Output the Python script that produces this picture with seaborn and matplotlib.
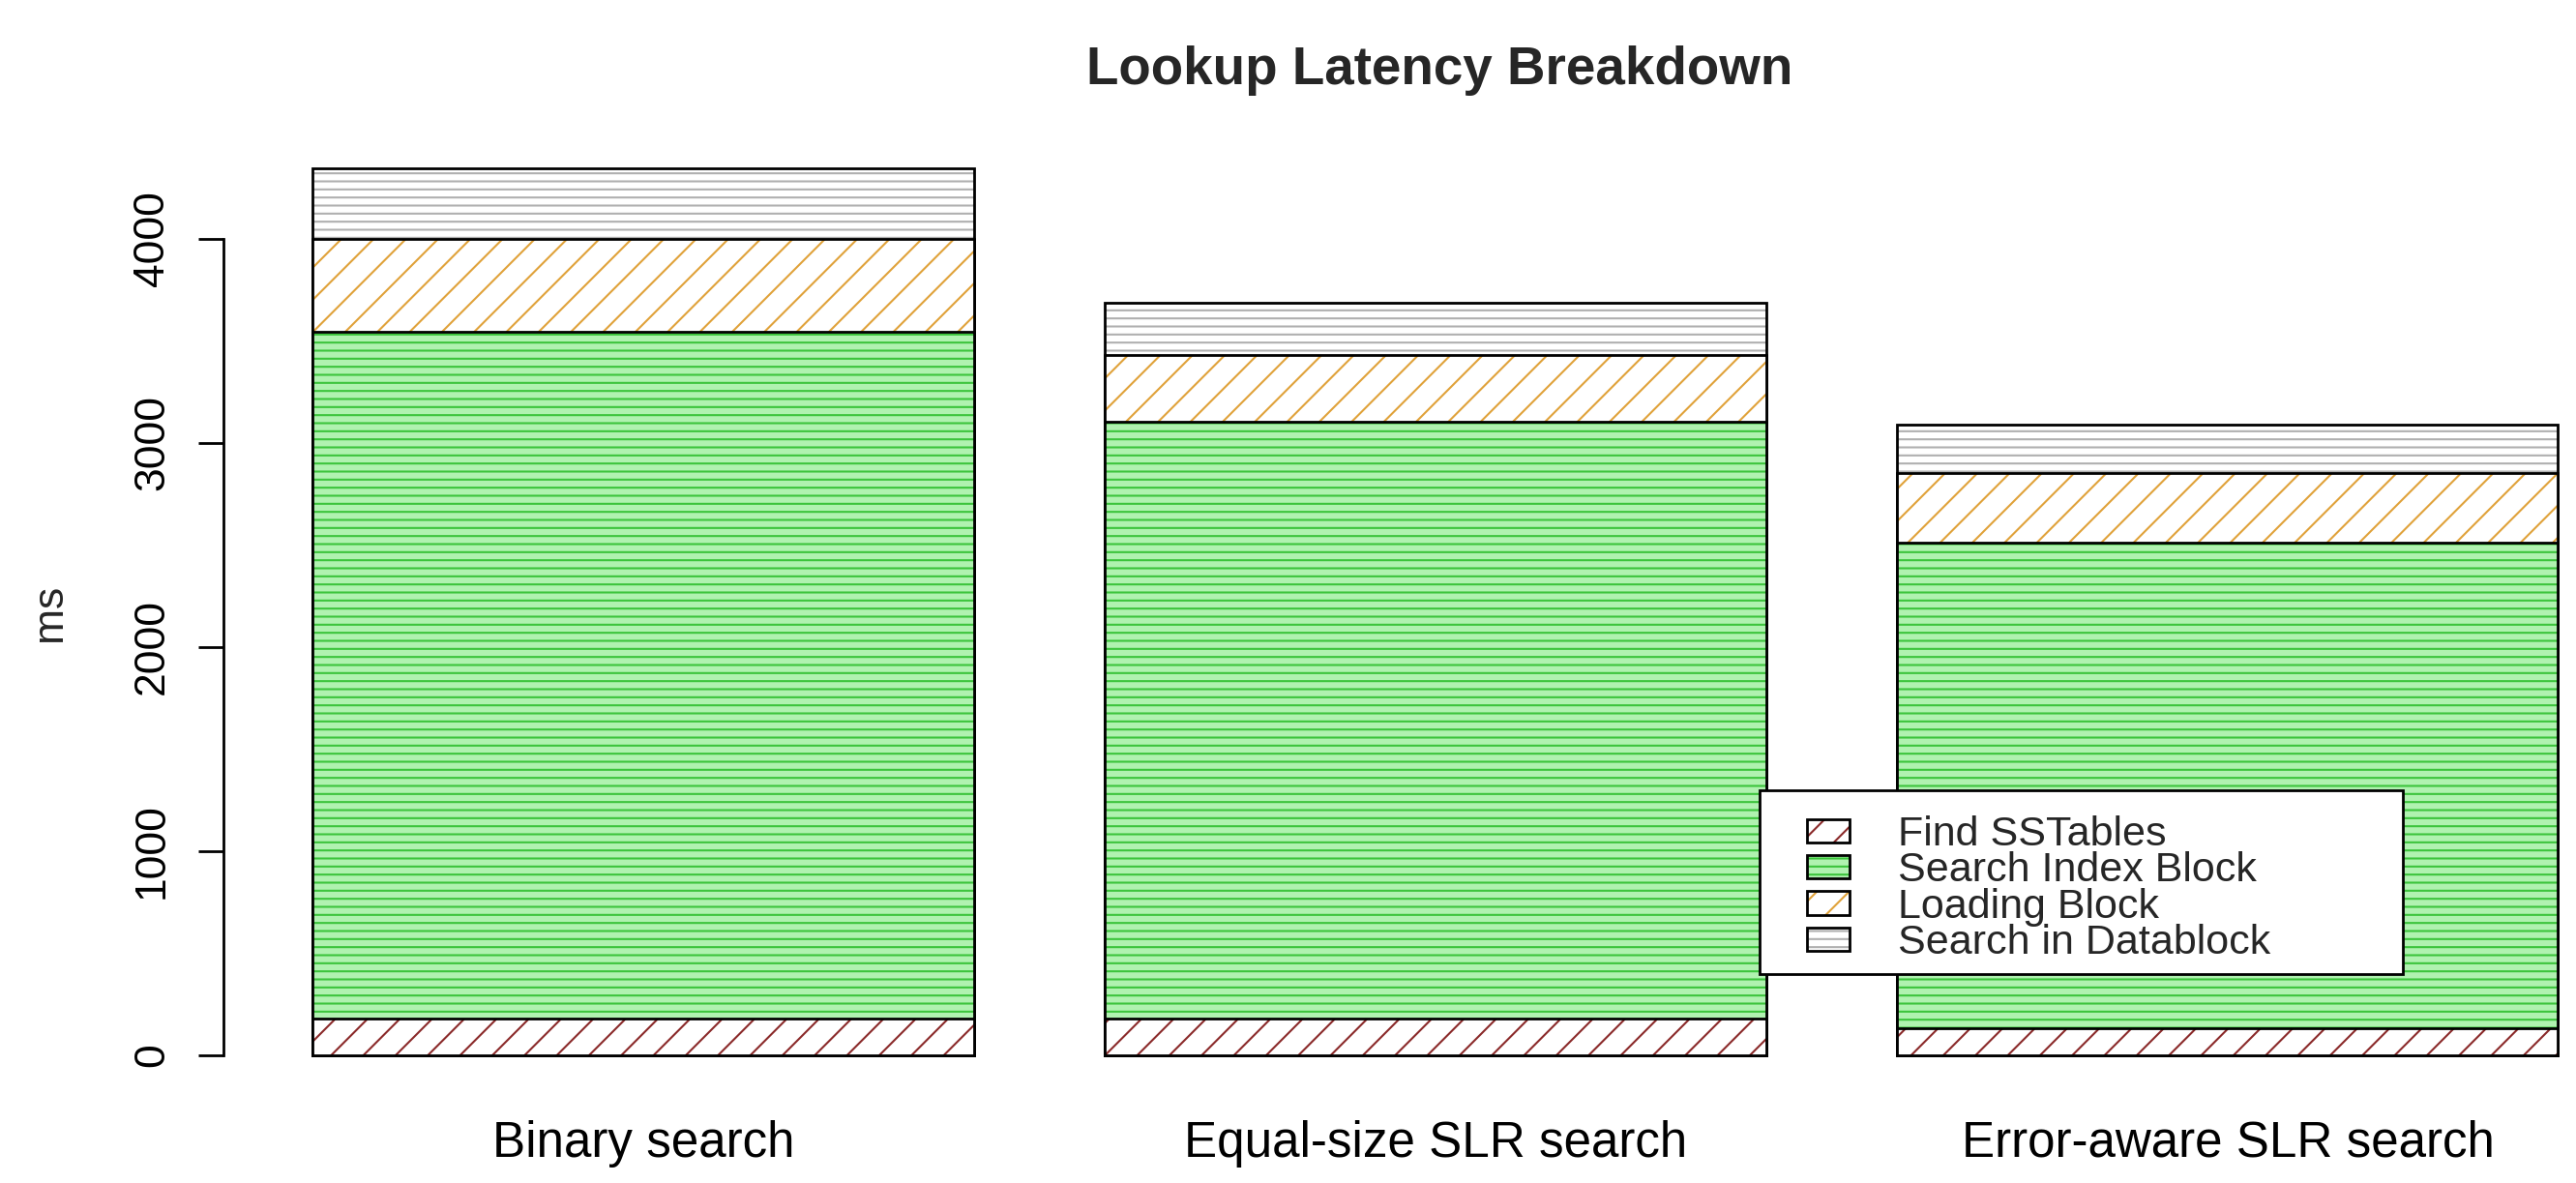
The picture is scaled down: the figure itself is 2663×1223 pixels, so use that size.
import matplotlib
matplotlib.use("Agg")
import matplotlib.pyplot as plt
from matplotlib.patches import Patch, Rectangle
from matplotlib.legend_handler import HandlerTuple
import seaborn as sns
import numpy as np

# values (ms)
methods = ["Binary search", "Equal-size SLR search", "Error-aware SLR search"]
find_sstables = [179, 178, 131]
search_index = [3364, 2928, 2379]
loading_block = [458, 327, 343]
search_datablock = [343, 253, 237]

parts = ["Find SSTables", "Search Index Block", "Loading Block", "Search in Datablock"]
hatch_colors = ["#8b2a2a", "#3cc43c", "#e0a23a", "#b0b0b0"]
face_colors = ["white", "#b0f2b0", "white", "white"]
hatches = ["//", "----", "//", "----"]

sns.set_theme(style="ticks")
plt.rcParams["font.family"] = ["Liberation Sans", "DejaVu Sans"]
plt.rcParams["hatch.linewidth"] = 0.75

W, H, DPI = 2663, 1223, 200
fig = plt.figure(figsize=(W / DPI, H / DPI), dpi=DPI, facecolor="white")
ax = fig.add_axes([0, 95 / H, 1, 990 / H])

stack = np.cumsum([find_sstables, search_index, loading_block, search_datablock], axis=0)

# draw from the top layer down so lower layers cover the upper ones
for i in range(len(parts) - 1, -1, -1):
    n = len(ax.patches)
    sns.barplot(x=methods, y=stack[i], color="white", width=0.834,
                saturation=1, errorbar=None, ax=ax)
    for p in ax.patches[n:]:
        p.set_facecolor(face_colors[i])
        p.set_edgecolor(hatch_colors[i])
        p.set_hatch(hatches[i])
        p.set_linewidth(0)
    n = len(ax.patches)
    sns.barplot(x=methods, y=stack[i], color="white", width=0.834,
                saturation=1, errorbar=None, ax=ax)
    for p in ax.patches[n:]:
        p.set_facecolor("none")
        p.set_edgecolor("black")
        p.set_linewidth(1.0)

ax.set_xlim(-0.812, 2.4396)
ax.set_ylim(-175.4, 4516.6)
ax.set_xlabel("")
ax.set_ylabel("")
for s in ["top", "right", "bottom"]:
    ax.spines[s].set_visible(False)
ax.spines["left"].set_position(("data", -0.530))
ax.spines["left"].set_bounds(0, 4000)
ax.spines["left"].set_linewidth(1.0)
ax.spines["left"].set_color("black")
ax.set_yticks([0, 1000, 2000, 3000, 4000])
ax.set_yticklabels(["0", "1000", "2000", "3000", "4000"], rotation=90, va="center")
ax.tick_params(axis="y", length=9.4, width=1.0, pad=9.7, labelsize=16, colors="black")
ax.tick_params(axis="x", length=0, pad=10.8, labelsize=18.4, colors="black")
ax.set_facecolor("white")

fig.text(1488 / W, 1 - 87.3 / H, "Lookup Latency Breakdown", ha="center",
         va="baseline", fontsize=19.7, fontweight="bold")
fig.text(63 / W, 1 - 633 / H, "ms", rotation=90, rotation_mode="anchor",
         ha="center", va="baseline", fontsize=16)

# legend
handles = []
for i in range(len(parts)):
    handles.append((Patch(facecolor=face_colors[i], edgecolor=hatch_colors[i],
                          hatch=hatches[i], linewidth=0),
                    Patch(facecolor="none", edgecolor="black", linewidth=1.0)))
fig.patches.append(Rectangle((1819 / W, 1 - 1007 / H), 665 / W, 190 / H,
                             transform=fig.transFigure, facecolor="white",
                             edgecolor="black", linewidth=1.0, zorder=5))
leg = fig.legend(handles, parts, loc="upper left",
                 bbox_to_anchor=(1868 / W, 1 - 843 / H), frameon=False,
                 borderpad=0, borderaxespad=0, fontsize=15.5,
                 handlelength=1.02, handleheight=0.49, handletextpad=1.16,
                 labelspacing=-0.06, handler_map={tuple: HandlerTuple(ndivide=1)})
leg.set_zorder(6)

fig.savefig("out.png", dpi=DPI, facecolor="white")
